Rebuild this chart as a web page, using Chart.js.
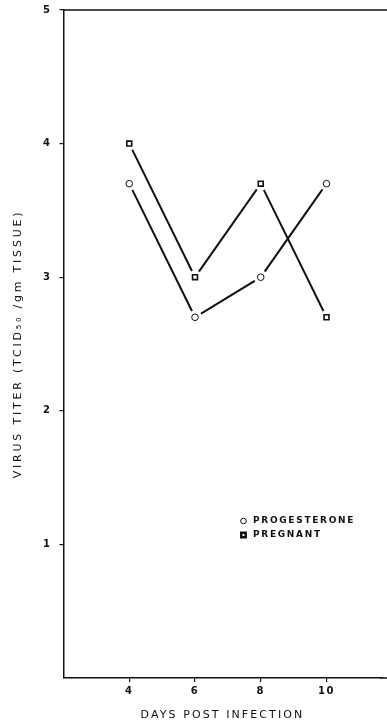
<!DOCTYPE html>
<html>
<head>
<meta charset="utf-8">
<script src="https://cdn.jsdelivr.net/npm/chart.js@4/dist/chart.umd.min.js"></script>
<style>
  html, body { margin: 0; padding: 0; background: #fff; overflow: hidden; }
  canvas { display: block; }
</style>
</head>
<body>
<canvas id="titerChart" width="387" height="722"></canvas>
<script>
// data
const days = [4, 6, 8, 10];
const progesterone = [3.7, 2.7, 3.0, 3.7];
const pregnant = [4.0, 3.0, 3.7, 2.7];
const xTicks = [4, 6, 8, 10];
const yTicks = [1, 2, 3, 4, 5];
const seriesNames = ["PROGESTERONE", "PREGNANT"];

const ink = "#111";
const fontFamily = "'DejaVu Sans', 'Liberation Sans', sans-serif";

function toPoints(xs, ys) {
    return xs.map((x, i) => ({ x: x, y: ys[i] }));
}

// white gap round each marker, then the marker drawn again on top
const markerGap = {
    id: "markerGap",
    afterDatasetsDraw(chart) {
        const ctx = chart.ctx;
        chart.data.datasets.forEach((ds, di) => {
            const meta = chart.getDatasetMeta(di);
            meta.data.forEach(pt => {
                ctx.save();
                ctx.fillStyle = "#fff";
                ctx.beginPath();
                ctx.arc(pt.x, pt.y, 7, 0, Math.PI * 2);
                ctx.fill();
                ctx.restore();
                pt.draw(ctx, chart.chartArea);
            });
        });
    }
};

// frame lines running off the right edge, and the legend inside the plot
const frameAndKey = {
    id: "frameAndKey",
    beforeDraw(chart) {
        chart.ctx.letterSpacing = "1.5px";
    },
    afterDraw(chart) {
        const ctx = chart.ctx;
        const a = chart.chartArea;
        ctx.save();
        ctx.strokeStyle = ink;
        ctx.lineWidth = 1.5;
        ctx.beginPath();
        ctx.moveTo(a.left, a.top);
        ctx.lineTo(chart.width, a.top);
        ctx.moveTo(a.right - 1, a.bottom);
        ctx.lineTo(chart.width, a.bottom);
        ctx.stroke();

        // legend
        ctx.font = "bold 9px " + fontFamily;
        ctx.fillStyle = ink;
        ctx.textBaseline = "middle";
        ctx.letterSpacing = "1.7px";
        ctx.fillText(seriesNames[0], 253, 521);
        ctx.fillText(seriesNames[1], 253, 535);
        ctx.lineWidth = 1;
        ctx.beginPath();
        ctx.arc(243.5, 521, 2.8, 0, Math.PI * 2);
        ctx.stroke();
        ctx.fillRect(240, 531.5, 7, 7);
        ctx.fillStyle = "#fff";
        ctx.fillRect(242.5, 534, 2, 2);
        ctx.restore();
    }
};

// wider spacing just for the axis titles
function spaced(px) {
    return function (s) {
        const draw = s.drawTitle.bind(s);
        s.drawTitle = function () {
            s.ctx.save();
            s.ctx.letterSpacing = px;
            draw();
            s.ctx.restore();
        };
    };
}

new Chart(document.getElementById("titerChart"), {
    type: "line",
    data: {
        datasets: [
            {
                label: seriesNames[0],
                data: toPoints(days, progesterone),
                borderColor: ink,
                borderWidth: 2,
                pointStyle: "circle",
                pointRadius: 3.3,
                pointBorderWidth: 1,
                pointBorderColor: ink,
                pointBackgroundColor: "#fff",
                tension: 0
            },
            {
                label: seriesNames[1],
                data: toPoints(days, pregnant),
                borderColor: ink,
                borderWidth: 2,
                pointStyle: "rect",
                pointRadius: 3.5,
                pointBorderWidth: 1.6,
                pointBorderColor: ink,
                pointBackgroundColor: "#fff",
                tension: 0
            }
        ]
    },
    options: {
        responsive: false,
        animation: false,
        layout: { padding: { top: 10, right: 0, bottom: 0, left: 0 } },
        plugins: {
            legend: { display: false },
            tooltip: { enabled: false }
        },
        scales: {
            x: {
                type: "linear",
                min: 2,
                max: 11.67,
                afterBuildTicks: s => { s.ticks = xTicks.map(v => ({ value: v })); },
                afterFit: s => { s.height = 44; s.paddingLeft = 0; s.paddingRight = 0; },
                afterUpdate: spaced("2.1px"),
                grid: { drawOnChartArea: false, color: ink, tickLength: 4, lineWidth: 1.2 },
                border: { display: true, color: ink, width: 1.5 },
                ticks: {
                    color: ink,
                    font: { family: fontFamily, size: 10, weight: "bold" },
                    padding: 3,
                    maxRotation: 0
                },
                title: {
                    display: true,
                    text: "DAYS POST INFECTION",
                    color: ink,
                    font: { family: fontFamily, size: 11 },
                    padding: { top: 4, bottom: 0 }
                }
            },
            y: {
                min: 0,
                max: 5,
                afterBuildTicks: s => { s.ticks = yTicks.map(v => ({ value: v })); },
                afterFit: s => { s.width = 63.5; s.paddingTop = 0; s.paddingBottom = 0; },
                afterUpdate: spaced("2.8px"),
                grid: { drawOnChartArea: false, color: ink, tickLength: 4, lineWidth: 1.2 },
                border: { display: true, color: ink, width: 1.5 },
                ticks: {
                    color: ink,
                    font: { family: fontFamily, size: 10, weight: "bold" },
                    padding: 8
                },
                title: {
                    display: true,
                    text: "VIRUS TITER (TCID₅₀ /gm TISSUE)",
                    color: ink,
                    font: { family: fontFamily, size: 11 },
                    padding: { top: 12, bottom: 0 }
                }
            }
        }
    },
    plugins: [markerGap, frameAndKey]
});
</script>
</body>
</html>
